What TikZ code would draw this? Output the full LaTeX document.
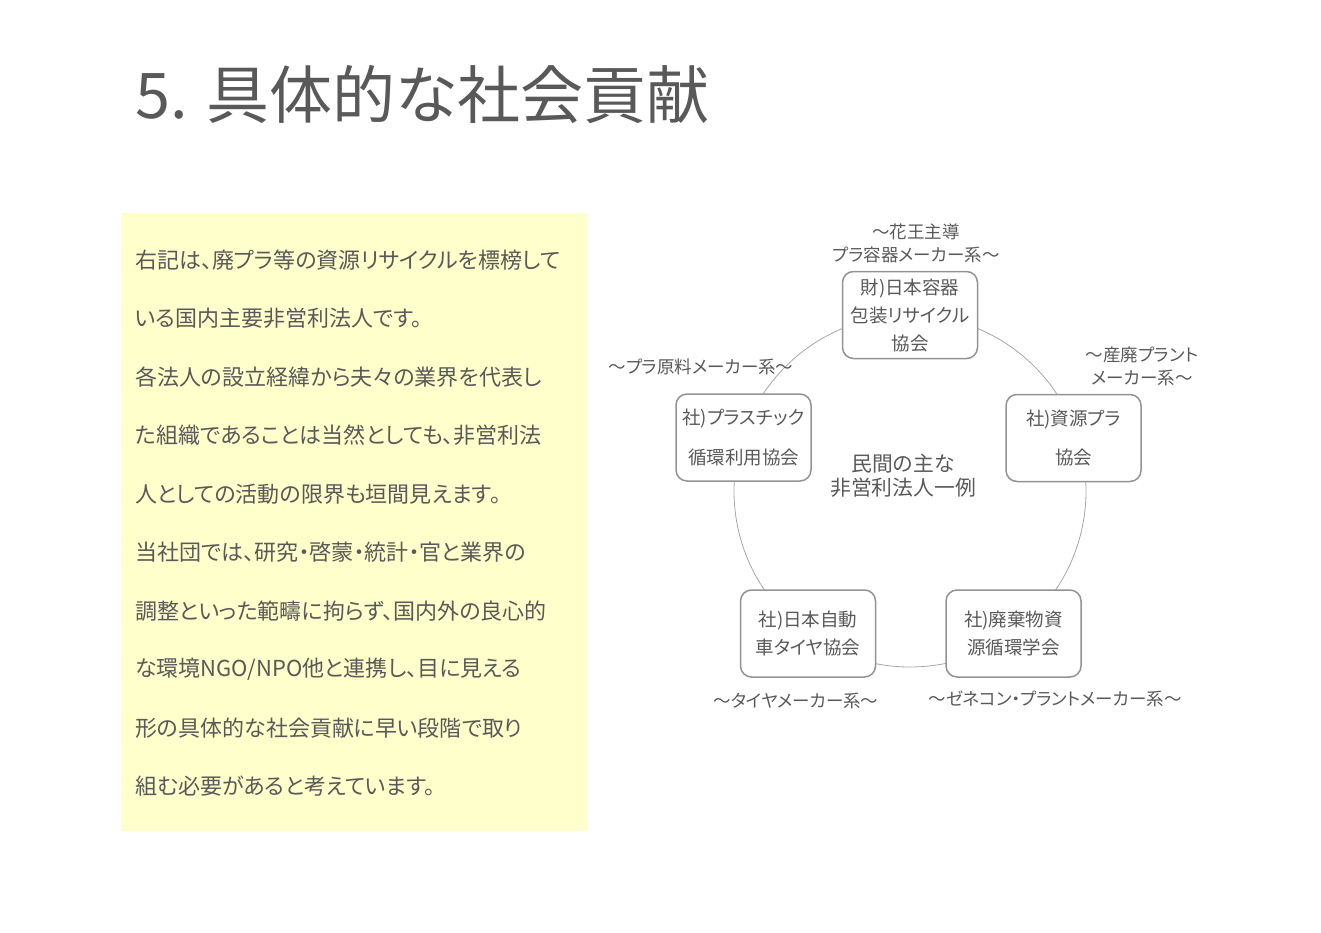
\documentclass[tikz,border=0pt]{standalone}
\usepackage{fontspec}
\setmainfont{Noto Sans CJK JP}[RawFeature=+palt]
\definecolor{txt}{HTML}{595959}
\definecolor{note}{HTML}{FFFFCC}
\definecolor{boxline}{HTML}{939393}
\definecolor{ring}{HTML}{A6A6A6}
\tikzset{
  orgbox/.style={draw=boxline, line width=1.5pt, rounded corners=11pt, fill=white,
    minimum width=135pt, minimum height=87pt, inner sep=0pt, align=center,
    text=txt, font=\fontsize{18.5}{28}\selectfont},
  lbl/.style={text=txt, align=center, inner sep=0pt, font=\fontsize{17.5}{23}\selectfont},
  para/.style={text=txt, anchor=west, inner sep=0pt, font=\fontsize{22}{26}\selectfont},
}
\begin{document}
\begin{tikzpicture}[x=1pt,y=-1pt]
\useasboundingbox (0,0) rectangle (1321,933);
% title
\node[anchor=west, text=txt, inner sep=0pt, font=\fontsize{63}{72}\selectfont] (title) at (135,95) {5. 具体的な社会貢献};
% note box
\fill[note] (121,213) rectangle (587,831);
\node[para] (p1) at (135,260) {右記は、廃プラ等の資源リサイクルを標榜して};
\node[para] (p2) at (135,318.5) {いる国内主要非営利法人です。};
\node[para] (p3) at (135,377) {各法人の設立経緯から夫々の業界を代表し};
\node[para] (p4) at (135,435.5) {た組織であることは当然としても、非営利法};
\node[para] (p5) at (135,494) {人としての活動の限界も垣間見えます。};
\node[para] (p6) at (135,552.5) {当社団では、研究・啓蒙・統計・官と業界の};
\node[para] (p7) at (135,611) {調整といった範疇に拘らず、国内外の良心的};
\node[para] (p8) at (135,669.5) {な環境NGO/NPO他と連携し、目に見える};
\node[para] (p9) at (135,728) {形の具体的な社会貢献に早い段階で取り};
\node[para] (p10) at (135,786.5) {組む必要があると考えています。};
% ring
\coordinate (c) at (910,491);
\draw[ring, line width=0.8pt] (c) circle[radius=176];
% boxes
\node[orgbox] (top) at (910,315) {財)日本容器\\包装リサイクル\\協会};
\node[orgbox] (left) at (743.5,437.5) {社)プラスチック\\[12pt]循環利用協会};
\node[orgbox] (right) at (1073.5,438) {社)資源プラ\\[11pt]協会};
\node[orgbox] (bl) at (808,633.5) {社)日本自動\\車タイヤ協会};
\node[orgbox] (br) at (1013.5,633.5) {社)廃棄物資\\源循環学会};
% centre text
\node[lbl, font=\fontsize{20.8}{24}\selectfont] (mid) at (903,476) {民間の主な\\非営利法人一例};
% labels
\node[lbl] (ltop) at (916,243.5) {～花王主導\\プラ容器メーカー系～};
\node[lbl] (lleft) at (701,367) {～プラ原料メーカー系～};
\node[lbl] (lright) at (1142,366.5) {～産廃プラント\\メーカー系～};
\node[lbl] (lbl1) at (796,701) {～タイヤメーカー系～};
\node[lbl] (lbr) at (1055,699) {～ゼネコン・プラントメーカー系～};
\end{tikzpicture}
\end{document}
